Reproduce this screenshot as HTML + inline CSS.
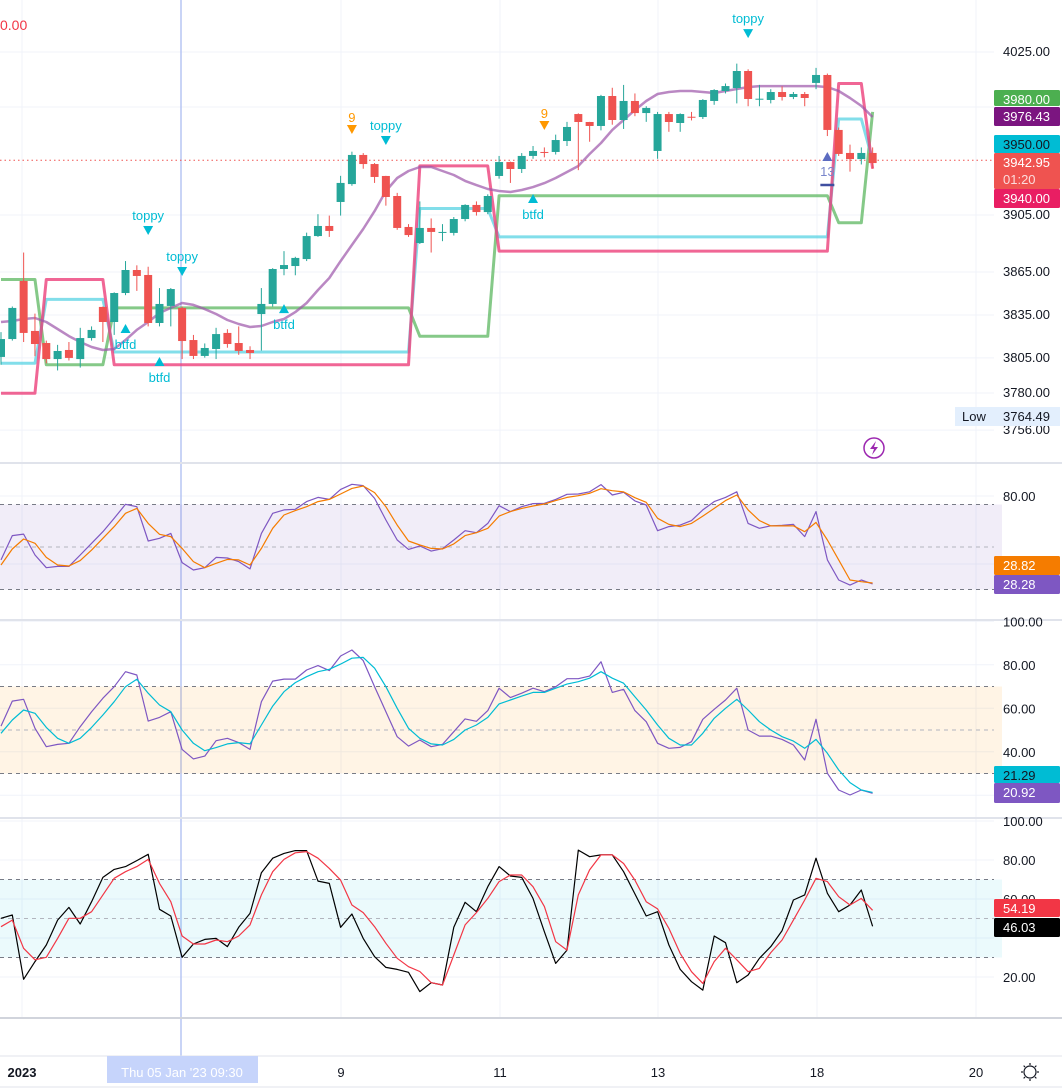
<!DOCTYPE html>
<html><head><meta charset="utf-8">
<style>
html,body{margin:0;padding:0;background:#fff;}
svg{display:block;font-family:"Liberation Sans",sans-serif;}
</style></head>
<body>
<svg id="chart" width="1062" height="1092" viewBox="0 0 1062 1092" xmlns="http://www.w3.org/2000/svg">
<rect x="0" y="0" width="1062" height="1092" fill="#ffffff"/>
<g id="grid"></g>
<g id="bands"></g>
<g id="series"></g>
<g id="axis"></g>
</svg>
<script>
// ---- data ----
const opens = [3804.5,3817.1,3858.0,3822.8,3814.3,3803.0,3809.4,3803.0,3817.8,3839.7,3829.1,3849.5,3865.7,3862.2,3828.4,3840.4,3839.0,3816.4,3805.2,3810.1,3821.4,3814.3,3809.4,3834.7,3841.8,3866.4,3868.5,3873.4,3889.6,3896.7,3913.6,3926.2,3946.7,3940.3,3931.9,3917.8,3896.0,3884.7,3895.3,3892.2,3891.8,3901.6,3911.5,3906.5,3931.9,3941.7,3936.8,3946.0,3948.8,3948.8,3956.5,3975.5,3969.9,3967.1,3988.2,3971.3,3984.7,3976.2,3949.5,3975.5,3969.2,3973.6,3973.4,3984.7,3991.7,3993.8,4005.8,3986.1,3985.4,3991.0,3987.5,3989.6,3997.4,4003.0,3964.3,3948.1,3943.8,3948.1];
const closes = [3817.1,3839.0,3821.4,3813.6,3803.0,3808.7,3803.8,3817.8,3823.5,3829.1,3849.5,3865.7,3861.5,3828.4,3841.8,3852.3,3815.7,3805.2,3810.8,3820.6,3813.6,3808.7,3807.3,3841.8,3866.4,3869.2,3874.2,3889.6,3896.7,3893.2,3927.0,3946.7,3940.3,3931.2,3917.1,3895.3,3890.3,3895.3,3892.5,3892.5,3901.6,3911.5,3906.5,3917.8,3941.7,3936.8,3946.0,3949.5,3948.6,3957.2,3966.4,3969.9,3967.1,3988.2,3971.3,3984.7,3976.2,3979.8,3975.5,3969.9,3975.5,3973.4,3985.4,3992.4,3995.2,4005.8,3986.1,3986.3,3991.0,3987.5,3989.6,3986.8,4003.0,3964.3,3947.4,3943.8,3948.1,3941.0];
const highs = [3822,3840,3878,3835,3816,3813,3815,3825,3826,3840,3850,3872,3869,3868,3853,3853,3840,3820,3814,3825,3824,3826,3812,3853,3867,3879,3875,3892,3905,3904,3932,3949,3948,3941,3932,3920,3898,3914,3902,3898,3903,3912,3914,3919,3946,3942,3948,3953,3952,3961,3970,3976,3970,3989,3994,3996,3990,3981,3977,3977,3976,3977,3986,3993,3997,4011,4007,3996,3993,3995,3991,3991,4008,4004,3966,3954,3952,3952];
const lows = [3799,3816,3815,3805,3800,3795,3802,3797,3816,3815,3820,3848,3851,3826,3826,3826,3803,3803,3804,3803,3811,3806,3803,3809,3840,3862,3862,3872,3889,3889,3904,3925,3937,3927,3911,3894,3889,3884,3878,3886,3890,3900,3904,3905,3930,3927,3934,3944,3945,3947,3953,3936,3956,3964,3968,3965,3974,3970,3944,3963,3963,3971,3972,3982,3990,3983,3981,3981,3983,3985,3986,3981,3993,3960,3946,3935,3940,3937];
const maLine = [3829.1,3829.8,3831.2,3831.9,3829.1,3824.2,3819.2,3815.0,3811.5,3809.4,3810.1,3816.4,3823.5,3829.1,3835.4,3839.0,3842.5,3841.1,3838.2,3834.7,3830.5,3827.7,3825.6,3826.3,3829.1,3831.2,3836.1,3842.5,3851.6,3860.1,3872.0,3883.3,3894.6,3907.2,3921.3,3930.5,3935.4,3938.2,3938.2,3935.4,3932.6,3928.4,3925.5,3922.7,3921.3,3920.6,3922.0,3924.1,3926.9,3930.5,3934.7,3938.9,3947.4,3955.1,3964.3,3971.3,3978.3,3984.7,3989.6,3991.0,3991.7,3991.7,3991.0,3990.3,3991.7,3993.1,3994.5,3995.2,3995.2,3995.2,3995.2,3995.2,3995.2,3994.5,3991.7,3986.8,3981.2,3973.4];
const segStart = [0,4,10,37,44,74,77];
const segEnd   = [3,9,36,43,73,76,77];
const pinkLevels  = [3779,3859,3799,3939,3879,3997,3937];
const cyanLevels  = [3800,3845,3808,3909,3889,3972,3943];
const greenLevels = [3859,3799,3839,3819,3918,3899,3977];
const rsiK = [42.4,56.7,57.6,45.3,37.8,38.6,38.6,45.3,52.2,59.0,66.9,75.1,73.7,53.5,55.1,58.0,40.8,36.5,37.8,43.9,43.5,41.4,37.1,58.0,69.8,71.8,72.2,76.7,79.2,78.0,83.9,86.9,86.1,78.6,65.9,54.1,48.6,50.6,47.6,49.0,54.1,59.6,58.4,63.9,74.3,70.8,73.7,75.5,75.7,78.0,81.0,81.2,82.5,86.7,80.6,82.2,77.1,74.7,59.6,62.0,62.9,65.5,71.8,76.7,79.2,82.5,63.9,61.0,62.5,62.7,63.3,56.1,70.8,42.4,30.6,27.6,30.6,28.3];
const rsiD = [39.4,48.8,54.7,52.2,43.9,39.4,38.8,42.0,48.2,55.1,62.0,69.8,72.7,63.9,57.5,56.1,49.2,41.4,37.8,40.4,42.7,42.4,39.4,49.2,61.0,68.8,71.4,73.7,76.7,78.0,81.2,84.5,85.9,82.0,73.7,62.9,53.5,51.2,49.2,48.8,51.8,56.7,58.4,61.0,68.2,70.8,72.7,74.1,75.3,77.3,79.2,80.2,81.6,84.3,83.1,82.4,79.0,76.3,66.9,63.3,62.0,63.9,68.2,72.7,77.3,80.6,71.8,65.5,62.4,62.4,62.5,59.0,64.5,54.1,42.4,30.6,29.6,28.8];
const stK = [51.8,63.3,64.1,50.8,42.3,43.4,43.9,51.5,58.4,64.6,69.9,76.8,75.3,54.1,55.8,58.4,41.1,36.7,38.0,45.1,46.2,44.2,41.1,63.0,72.5,73.4,73.4,77.6,79.6,77.3,84.0,86.8,81.9,69.9,58.4,46.9,42.6,45.4,42.3,43.4,49.2,55.1,54.0,58.9,69.2,64.9,66.9,69.2,67.6,69.9,73.6,73.6,74.8,81.4,67.3,68.7,58.9,53.8,43.9,41.6,42.0,44.6,54.9,59.5,63.8,69.2,50.0,47.2,47.2,45.7,43.1,36.2,54.9,30.1,22.4,20.1,22.4,20.9];
const stD = [48.5,54.6,59.2,57.7,51.2,46.2,43.9,46.2,51.2,56.9,63.0,69.9,73.3,66.9,61.5,58.4,50.0,43.9,40.5,41.9,43.6,44.2,43.6,52.3,61.0,67.6,71.8,74.5,76.8,77.9,80.3,83.0,83.4,78.4,69.9,60.0,50.8,46.2,43.6,43.1,45.7,50.0,52.3,55.8,62.0,63.8,65.6,67.3,67.3,69.2,71.1,72.2,73.8,76.8,73.8,71.5,65.3,59.2,52.3,46.2,43.1,43.1,48.5,55.4,60.0,64.1,59.2,53.8,50.0,46.9,44.9,41.6,45.7,39.3,31.6,25.8,22.4,21.3];
const wK = [50.1,51.8,18.8,27.9,36.4,49.2,55.7,47.2,58.6,71.1,75.2,76.6,79.7,82.9,54.7,51.3,30.1,36.9,39.3,39.8,35.6,45.5,52.6,73.5,80.9,83.4,84.8,84.8,69.2,68.0,45.5,52.3,39.8,30.4,24.9,23.9,22.4,12.5,17.1,15.9,45.5,58.3,53.5,66.3,76.6,71.8,71.1,60.3,43.2,27.0,33.8,85.1,81.7,82.6,82.6,74.0,62.6,51.3,53.5,36.4,23.9,17.6,13.3,41.0,37.6,17.1,21.0,29.6,35.6,43.8,59.5,62.1,80.9,62.9,53.5,56.9,64.6,46.0];
const wD = [45.8,49.2,34.7,28.8,30.1,39.8,50.1,50.1,53.5,62.1,70.6,74.0,76.6,80.3,68.0,58.6,41.0,36.9,36.9,39.0,38.1,41.0,46.7,62.1,74.0,80.3,83.7,84.3,80.9,75.7,69.7,56.9,53.0,45.8,37.3,29.6,25.3,22.8,17.1,15.9,31.3,46.7,53.0,60.3,68.9,72.3,72.3,66.3,56.1,38.1,33.8,62.1,74.9,82.6,82.6,78.2,69.7,58.6,54.9,44.9,32.1,22.7,16.7,27.9,34.7,28.8,22.7,24.4,32.5,39.0,49.2,59.5,70.6,68.9,61.2,56.9,60.3,54.2];
const priceTickLabels = ["4025.00","3905.00","3865.00","3835.00","3805.00","3780.00","3756.00"];
const priceTickVals = [4019.2,3904.4,3864.3,3834.0,3803.8,3779.1,3753.0];
const toppyIdx = [13,16,34,66];
const toppyPrice = [3893.2,3864.3,3956.5,4031.8];
const btfdIdx = [11,14,25,47];
const btfdPrice = [3824.2,3800.9,3838.2,3915.7];
const nineIdx = [31,48];
const ninePrice = [3964.3,3967.1];
const timeLabels = ["2023","9","11","13","18","20"];
const timeLabelX = [22,341,500,658,817,976];

// ---- scales ----
const NS = "http://www.w3.org/2000/svg";
const xI = i => 1 + i * 11.32;
const yM = p => 271 - (p - 3865) / 0.704;
const yR = v => 547 - (v - 50) * 1.7;
const yS = v => 730 - (v - 50) * 2.175;
const yK = v => 918.5 - (v - 50) * 1.95;
function mk(tag, attrs, parent, text){
  const e = document.createElementNS(NS, tag);
  for (const k in attrs) e.setAttribute(k, attrs[k]);
  if (text !== undefined) e.textContent = text;
  parent.appendChild(e); return e;
}
const grid = document.getElementById('grid');
const bands = document.getElementById('bands');
const series = document.getElementById('series');
const axis = document.getElementById('axis');
const AX = 994;

timeLabelX.forEach(x => { const l = mk('line',{x1:x,x2:x,y1:0,y2:1017,stroke:'#f0f3fa','stroke-width':1},grid);

 });
priceTickVals.forEach(v => { const l = mk('line',{x1:0,x2:AX,y1:yM(v),y2:yM(v),stroke:'#f0f3fa'},grid);

 });
mk('line',{x1:0,x2:AX,y1:107,y2:107,stroke:'#f0f3fa'},grid);
[80,40].forEach(v=>mk('line',{x1:0,x2:AX,y1:yR(v),y2:yR(v),stroke:'#f0f3fa'},grid));
[100,80,60,40,20].forEach(v=>mk('line',{x1:0,x2:AX,y1:yS(v),y2:yS(v),stroke:'#f0f3fa'},grid));
[100,80,60,40,20].forEach(v=>mk('line',{x1:0,x2:AX,y1:yK(v),y2:yK(v),stroke:'#f0f3fa'},grid));

function band(y1,y2,fill,name){
  const r = mk('rect',{x:0,y:y1,width:AX+8,height:y2-y1,fill:fill},bands);
  
  
}
band(yR(75),yR(25),'rgba(126,87,194,0.11)','rsi-band');
band(yS(70),yS(30),'rgba(255,152,0,0.1)','stoch-band');
band(yK(70),yK(30),'rgba(0,188,212,0.08)','williams-band');
function dash(y,c){ mk('line',{x1:0,x2:AX,y1:y,y2:y,stroke:c,'stroke-dasharray':'4 4'},bands); }
dash(yR(75),'#787b86');dash(yR(50),'#b2b5be');dash(yR(25),'#787b86');
dash(yS(70),'#787b86');dash(yS(50),'#b2b5be');dash(yS(30),'#787b86');
dash(yK(70),'#787b86');dash(yK(50),'#b2b5be');dash(yK(30),'#787b86');

const ch = mk('line',{x1:181,x2:181,y1:0,y2:1056,stroke:'#b7c6f3','stroke-width':1.5},grid);



const cp = mk('line',{x1:0,x2:AX,y1:yM(3942.95),y2:yM(3942.95),stroke:'#ef5350','stroke-dasharray':'1.5 3'},series);



function stepLine(levels,color,name){
  let pts=[];
  for(let s=0;s<segStart.length;s++){
    pts.push(xI(segStart[s])+','+yM(levels[s]).toFixed(1));
    pts.push(xI(segEnd[s])+','+yM(levels[s]).toFixed(1));
  }
  const p = mk('polyline',{points:pts.join(' '),fill:'none',stroke:color,'stroke-width':3,'stroke-linejoin':'round'},series);
  
  
}
stepLine(greenLevels,'rgba(102,187,106,0.8)','green-band-line');
stepLine(cyanLevels,'rgba(77,208,225,0.7)','cyan-band-line');
stepLine(pinkLevels,'rgba(236,64,122,0.8)','pink-band-line');

function line(arr,yf,color,w,name){
  const pts = arr.map((v,i)=>xI(i).toFixed(1)+','+yf(v).toFixed(1)).join(' ');
  const p = mk('polyline',{points:pts,fill:'none',stroke:color,'stroke-width':w,'stroke-linejoin':'round'},series);
  
  
}
line(maLine,yM,'rgba(156,85,170,0.7)',2.5,'moving-average-line');

for(let i=0;i<opens.length;i++){
  const up = closes[i]>=opens[i];
  const c = up?'#26a69a':'#ef5350';
  const x = xI(i);
  const g = mk('g',{},series);
  
  
  mk('line',{x1:x,x2:x,y1:yM(highs[i]),y2:yM(lows[i]),stroke:c,'stroke-width':1},g);
  const top = yM(Math.max(opens[i],closes[i])), bot = yM(Math.min(opens[i],closes[i]));
  mk('rect',{x:x-4,y:top,width:8,height:Math.max(1,bot-top),fill:c},g);
}

function tri(x,y,down,color){
  const d = down ? `M${x-5},${y-5} L${x+5},${y-5} L${x},${y+4} Z` : `M${x-5},${y+4} L${x+5},${y+4} L${x},${y-5} Z`;
  return mk('path',{d:d,fill:color},series);
}
toppyIdx.forEach((i,k)=>{
  const x=xI(i), y=yM(toppyPrice[k]);
  const t = tri(x,y,true,'#00bcd4');
  
  
  const tx = mk('text',{x:x,y:y-11,'text-anchor':'middle','font-size':13,fill:'#00bcd4'},series,'toppy');
  
  
});
btfdIdx.forEach((i,k)=>{
  const x=xI(i), y=yM(btfdPrice[k]);
  const t = tri(x,y,false,'#00bcd4');
  
  
  const tx = mk('text',{x:x,y:y+20,'text-anchor':'middle','font-size':13,fill:'#00bcd4'},series,'btfd');
  
  
});
nineIdx.forEach((i,k)=>{
  const x=xI(i), y=yM(ninePrice[k]);
  const t = tri(x,y,true,'#ff9800');
  
  
  const tx = mk('text',{x:x,y:y-8,'text-anchor':'middle','font-size':13,fill:'#ff9800'},series,'9');
  
  
});
{ const x=xI(73);
  const t=tri(x,157,false,'#5c6bc0');  
  const tx=mk('text',{x:x,y:176,'text-anchor':'middle','font-size':13,fill:'#7986cb'},series,'13');
   
  mk('line',{x1:x-7,x2:x+7,y1:185,y2:185,stroke:'#3f4fa0','stroke-width':2.5},series);
}

line(rsiK,yR,'#7e57c2',1.2,'rsi-line');
line(rsiD,yR,'#f57c00',1.2,'rsi-signal-line');
line(stK,yS,'#7e57c2',1.2,'stoch-k-line');
line(stD,yS,'#00bcd4',1.2,'stoch-d-line');
line(wK,yK,'#000000',1.2,'fast-line');
line(wD,yK,'#f23645',1.2,'slow-line');

[463,620,818].forEach(y=>mk('line',{x1:0,x2:1062,y1:y,y2:y,stroke:'#e0e3eb','stroke-width':2},grid));
mk('line',{x1:0,x2:1062,y1:1018,y2:1018,stroke:'#d1d4dc','stroke-width':2},axis);
mk('line',{x1:0,x2:1062,y1:1056,y2:1056,stroke:'#e0e3eb','stroke-width':1},axis);
mk('line',{x1:0,x2:1062,y1:1087,y2:1087,stroke:'#e0e3eb','stroke-width':1},axis);

priceTickLabels.forEach((s,k)=>{
  const t = mk('text',{x:1003,y:yM(priceTickVals[k])+4,'font-size':13,fill:'#131722'},axis,s);
  
  
});
function tag(y1,h,bg,fg,txt,name,sub){
  const g = mk('g',{},axis);
  
  
  mk('rect',{x:AX,y:y1,width:66,height:h,fill:bg,rx:1.5},g);
  mk('text',{x:1003,y:y1+14,'font-size':13,fill:fg},g,txt);
  if(sub) mk('text',{x:1003,y:y1+31,'font-size':13,fill:'rgba(255,255,255,0.8)'},g,sub);
}
tag(90,16,'#4caf50','#fff','3980.00','green-price-tag');
tag(107,19,'#7b1580','#fff','3976.43','ma-price-tag');
tag(135,18,'#00bcd4','#131722','3950.00','cyan-price-tag');
tag(153,36,'#ef5350','#fff','3942.95','last-price-tag','01:20');
tag(189,19,'#e91e63','#fff','3940.00','pink-price-tag');
{ const g=mk('g',{},axis);  
  mk('rect',{x:955,y:407,width:105,height:19,fill:'#e3effd'},g);
  mk('text',{x:962,y:421,'font-size':13,fill:'#131722'},g,'Low');
  mk('text',{x:1003,y:421,'font-size':13,fill:'#131722'},g,'3764.49'); }
mk('text',{x:0,y:30,'font-size':14,fill:'#f23645'},axis,'0.00');

function al(v,yf){ const t=mk('text',{x:1003,y:yf(v)+5,'font-size':13,fill:'#131722'},axis,v.toFixed(2));

 }
al(80,yR); [100,80,60,40].forEach(v=>al(v,yS)); [100,80,60,20].forEach(v=>al(v,yK));
tag(556,19,'#f57c00','#fff','28.82','rsi-signal-tag');
tag(575,19,'#7e57c2','#fff','28.28','rsi-tag');
tag(766,17,'#00bcd4','#131722','21.29','stoch-d-tag');
tag(783,20,'#7e57c2','#fff','20.92','stoch-k-tag');
tag(899,18,'#f23645','#fff','54.19','slow-tag');
tag(918,19,'#000000','#fff','46.03','fast-tag');

{ const g=mk('g',{},axis);  
  mk('circle',{cx:874,cy:448,r:10,fill:'#fff',stroke:'#9c27b0','stroke-width':1.5},g);
  mk('path',{d:'M876,441 L870,449 L874,449 L872,455 L878,447 L874,447 Z',fill:'#9c27b0'},g); }

timeLabels.forEach((s,k)=>{
  const t=mk('text',{x:timeLabelX[k],y:1077,'text-anchor':'middle','font-size':13,fill:'#131722','font-weight':k===0?'bold':'normal'},axis,s);
  
  
});
{ const g=mk('g',{},axis);  
  mk('rect',{x:107,y:1056,width:151,height:27,fill:'#c6d4fb'},g);
  mk('text',{x:182,y:1077,'text-anchor':'middle','font-size':13,fill:'#ffffff'},g,'Thu 05 Jan \'23   09:30'); }
{ const g=mk('g',{},axis);  
  mk('circle',{cx:1030,cy:1072,r:6,fill:'none',stroke:'#131722','stroke-width':1.2},g);
  for(let a=0;a<8;a++){const r=a*Math.PI/4;mk('line',{x1:1030+7*Math.cos(r),y1:1072+7*Math.sin(r),x2:1030+9*Math.cos(r),y2:1072+9*Math.sin(r),stroke:'#131722','stroke-width':1.2},g);} }
</script>
</body></html>
